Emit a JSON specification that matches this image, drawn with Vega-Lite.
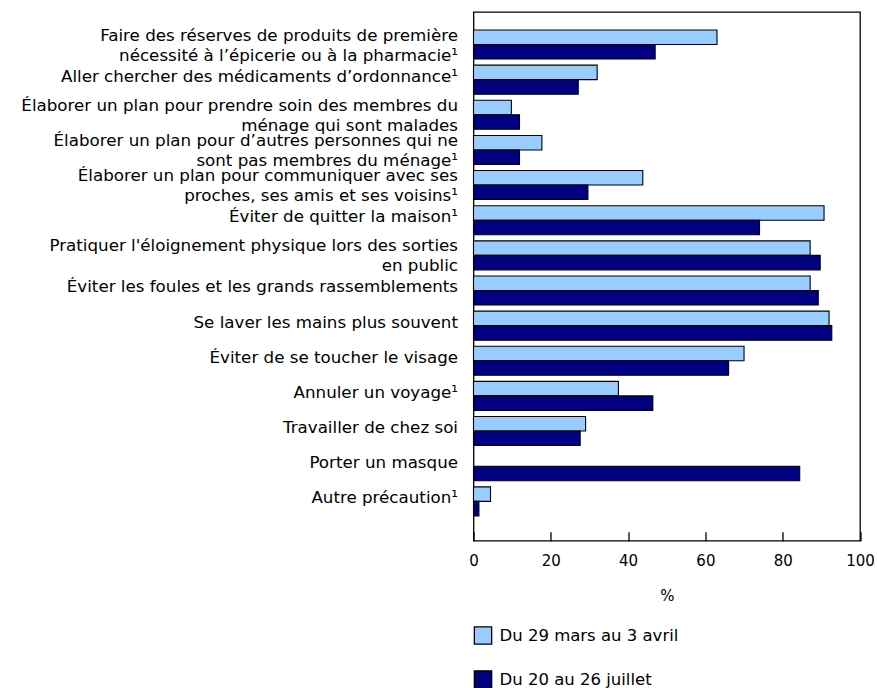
{
  "$schema": "https://vega.github.io/schema/vega-lite/v6.json",
  "width": 386.5,
  "height": 528.7,
  "autosize": {"type": "none"},
  "padding": {"left": 473.5, "top": 12, "right": 17, "bottom": 147.3},
  "background": "white",
  "config": {
    "view": {"stroke": "#000", "strokeWidth": 1.3},
    "font": "DejaVu Sans"
  },
  "data": {
    "values": [
      {"precaution": "Faire des réserves de produits de première\nnécessité à l’épicerie ou à la pharmacie¹", "periode": "Du 29 mars au 3 avril", "pct": 63.0},
      {"precaution": "Faire des réserves de produits de première\nnécessité à l’épicerie ou à la pharmacie¹", "periode": "Du 20 au 26 juillet", "pct": 47.0},
      {"precaution": "Aller chercher des médicaments d’ordonnance¹", "periode": "Du 29 mars au 3 avril", "pct": 32.0},
      {"precaution": "Aller chercher des médicaments d’ordonnance¹", "periode": "Du 20 au 26 juillet", "pct": 27.1},
      {"precaution": "Élaborer un plan pour prendre soin des membres du\nménage qui sont malades", "periode": "Du 29 mars au 3 avril", "pct": 9.8},
      {"precaution": "Élaborer un plan pour prendre soin des membres du\nménage qui sont malades", "periode": "Du 20 au 26 juillet", "pct": 11.9},
      {"precaution": "Élaborer un plan pour d’autres personnes qui ne\nsont pas membres du ménage¹", "periode": "Du 29 mars au 3 avril", "pct": 17.7},
      {"precaution": "Élaborer un plan pour d’autres personnes qui ne\nsont pas membres du ménage¹", "periode": "Du 20 au 26 juillet", "pct": 11.9},
      {"precaution": "Élaborer un plan pour communiquer avec ses\nproches, ses amis et ses voisins¹", "periode": "Du 29 mars au 3 avril", "pct": 43.8},
      {"precaution": "Élaborer un plan pour communiquer avec ses\nproches, ses amis et ses voisins¹", "periode": "Du 20 au 26 juillet", "pct": 29.6},
      {"precaution": "Éviter de quitter la maison¹", "periode": "Du 29 mars au 3 avril", "pct": 90.7},
      {"precaution": "Éviter de quitter la maison¹", "periode": "Du 20 au 26 juillet", "pct": 74.0},
      {"precaution": "Pratiquer l'éloignement physique lors des sorties\nen public", "periode": "Du 29 mars au 3 avril", "pct": 87.1},
      {"precaution": "Pratiquer l'éloignement physique lors des sorties\nen public", "periode": "Du 20 au 26 juillet", "pct": 89.7},
      {"precaution": "Éviter les foules et les grands rassemblements", "periode": "Du 29 mars au 3 avril", "pct": 87.1},
      {"precaution": "Éviter les foules et les grands rassemblements", "periode": "Du 20 au 26 juillet", "pct": 89.2},
      {"precaution": "Se laver les mains plus souvent", "periode": "Du 29 mars au 3 avril", "pct": 92.0},
      {"precaution": "Se laver les mains plus souvent", "periode": "Du 20 au 26 juillet", "pct": 92.7},
      {"precaution": "Éviter de se toucher le visage", "periode": "Du 29 mars au 3 avril", "pct": 70.0},
      {"precaution": "Éviter de se toucher le visage", "periode": "Du 20 au 26 juillet", "pct": 66.0},
      {"precaution": "Annuler un voyage¹", "periode": "Du 29 mars au 3 avril", "pct": 37.5},
      {"precaution": "Annuler un voyage¹", "periode": "Du 20 au 26 juillet", "pct": 46.4},
      {"precaution": "Travailler de chez soi", "periode": "Du 29 mars au 3 avril", "pct": 29.0},
      {"precaution": "Travailler de chez soi", "periode": "Du 20 au 26 juillet", "pct": 27.6},
      {"precaution": "Porter un masque", "periode": "Du 20 au 26 juillet", "pct": 84.4},
      {"precaution": "Autre précaution¹", "periode": "Du 29 mars au 3 avril", "pct": 4.4},
      {"precaution": "Autre précaution¹", "periode": "Du 20 au 26 juillet", "pct": 1.4}
    ]
  },
  "mark": {"type": "bar", "stroke": "#000", "strokeWidth": 1.1},
  "encoding": {
    "y": {
      "field": "precaution",
      "type": "nominal",
      "sort": null,
      "scale": {"paddingInner": 0.175, "paddingOuter": 0.61, "align": 0.42},
      "axis": {
        "title": null,
        "ticks": false,
        "domain": false,
        "labelPadding": 16,
        "labelFontSize": 16.7,
        "labelColor": "#000",
        "labelLimit": 600,
        "labelLineHeight": 20,
        "labelOffset": {"condition": {"test": "indexof(datum.value, '\\n') >= 0", "value": -9}, "value": -3},
        "labelExpr": "split(datum.label, '\\n')"
      }
    },
    "yOffset": {
      "field": "periode",
      "type": "nominal",
      "scale": {"domain": ["Du 29 mars au 3 avril", "Du 20 au 26 juillet"], "paddingInner": 0, "paddingOuter": 0}
    },
    "x": {
      "field": "pct",
      "type": "quantitative",
      "scale": {"domain": [0, 100], "nice": false},
      "axis": {
        "title": "%",
        "grid": false,
        "domain": false,
        "values": [0, 20, 40, 60, 80, 100],
        "tickSize": -9,
        "tickColor": "#000",
        "tickWidth": 1.3,
        "labelPadding": 22,
        "labelFontSize": 15,
        "labelColor": "#000",
        "labelFlush": false,
        "titleFontSize": 15,
        "titleFontWeight": "normal",
        "titleColor": "#000",
        "titlePadding": 20
      }
    },
    "color": {
      "field": "periode",
      "type": "nominal",
      "scale": {"domain": ["Du 29 mars au 3 avril", "Du 20 au 26 juillet"], "range": ["#99CCFF", "#000080"]},
      "legend": {
        "title": null,
        "orient": "none",
        "legendX": 0,
        "legendY": 614,
        "direction": "vertical",
        "rowPadding": 21,
        "symbolType": "square",
        "symbolSize": 300,
        "symbolStrokeColor": "#000",
        "symbolStrokeWidth": 1.3,
        "labelFontSize": 16.5,
        "labelColor": "#000",
        "labelLimit": 400,
        "labelOffset": 7,
        "padding": 0
      }
    }
  }
}
